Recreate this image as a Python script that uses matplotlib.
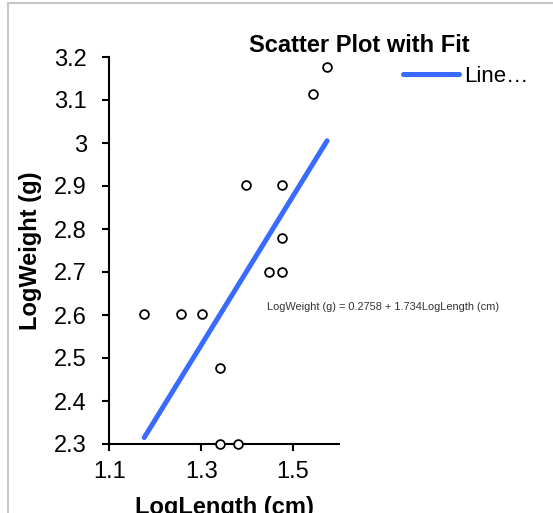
import matplotlib
matplotlib.use("Agg")
import matplotlib.pyplot as plt
from matplotlib.lines import Line2D

# data (log10 length / log10 weight)
log_length = [1.176, 1.255, 1.301, 1.342, 1.342, 1.380, 1.398, 1.477, 1.477, 1.447, 1.477, 1.544, 1.574]
log_weight = [2.602, 2.602, 2.602, 2.477, 2.301, 2.301, 2.903, 2.903, 2.778, 2.699, 2.699, 3.114, 3.176]
intercept = 0.2758
slope = 1.734
x_ticks = [1.1, 1.3, 1.5]
y_ticks = [2.3, 2.4, 2.5, 2.6, 2.7, 2.8, 2.9, 3.0, 3.1, 3.2]
y_tick_labels = ["2.3", "2.4", "2.5", "2.6", "2.7", "2.8", "2.9", "3", "3.1", "3.2"]

plt.rcParams['font.family'] = ['Liberation Sans', 'DejaVu Sans']

W, H = 553, 513
fig = plt.figure(figsize=(W / 100, H / 100), dpi=100)
ax = fig.add_axes([109.3 / W, 1 - 444 / H, (339 - 109.3) / W, (444 - 57) / H])

blue = '#3a6bff'
ax.scatter(log_length, log_weight, s=40, facecolors='white', edgecolors='black',
           linewidths=1.3, zorder=4, clip_on=False)
xs = [min(log_length), max(log_length)]
ax.plot(xs, [intercept + slope * v for v in xs], color=blue, lw=3.6,
        solid_capstyle='round', zorder=3)

ax.set_xlim(1.1, 1.6)
ax.set_ylim(2.3, 3.2)
ax.set_xticks(x_ticks)
ax.set_xticklabels([str(v) for v in x_ticks])
ax.set_yticks(y_ticks)
ax.set_yticklabels(y_tick_labels)
for s in ['top', 'right']:
    ax.spines[s].set_visible(False)
for s in ['left', 'bottom']:
    ax.spines[s].set_linewidth(1.5)
ax.tick_params(axis='both', direction='out', length=5, width=1.5, labelsize=17)
ax.tick_params(axis='y', pad=11)
ax.tick_params(axis='x', pad=7)

fig.text(359 / W, 1 - 45 / H, 'Scatter Plot with Fit', fontsize=17, fontweight='bold',
         ha='center', va='center')
fig.text(31 / W, 1 - 250.5 / H, 'LogWeight (g)', fontsize=17, fontweight='bold',
         rotation=90, ha='center', va='center')
fig.text(224 / W, -1 / H, 'LogLength (cm)', fontsize=17, fontweight='bold',
         ha='center', va='baseline')
fig.text(267 / W, 1 - 307 / H, 'LogWeight (g) = 0.2758 + 1.734LogLength (cm)',
         fontsize=7.9, color='#333333', ha='left', va='center')

handle = Line2D([0], [0], color=blue, lw=3.6, solid_capstyle='round')
fig.legend([handle], ['Line…'], loc='center left', bbox_to_anchor=(403 / W, 1 - 76 / H),
           frameon=False, fontsize=16, borderaxespad=0, borderpad=0,
           handlelength=2.5, handletextpad=0.25)

# border (only top and left edges fall inside the picture)
fig.add_artist(Line2D([7.5 / W, 7.5 / W], [0, 1 - 3 / H], color='#c8c8c8', lw=1.5,
                      transform=fig.transFigure))
fig.add_artist(Line2D([7.5 / W, 1], [1 - 3 / H, 1 - 3 / H], color='#c8c8c8', lw=1.5,
                      transform=fig.transFigure))

fig.savefig('out.png', dpi=100)
